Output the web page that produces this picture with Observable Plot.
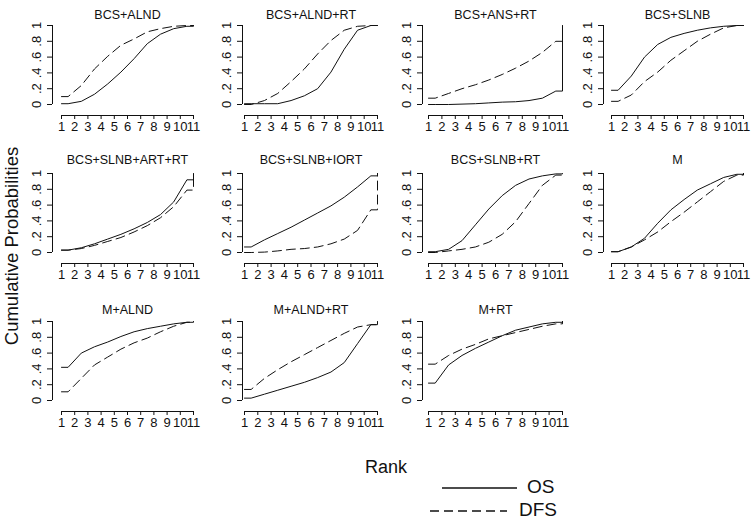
<!DOCTYPE html>
<html><head><meta charset="utf-8">
<script src="https://cdn.jsdelivr.net/npm/d3@7"></script>
<script src="https://cdn.jsdelivr.net/npm/@observablehq/plot@0.6"></script>
<style>
body{margin:0;background:#fff;}
#chart{position:relative;width:755px;height:523px;overflow:hidden;font-family:"Liberation Sans",Arial,sans-serif;background:#fff;}
#chart svg{position:absolute;overflow:visible;}
</style></head><body><div id="chart"></div>
<script>
const treatments = ["BCS+ALND","BCS+ALND+RT","BCS+ANS+RT","BCS+SLNB","BCS+SLNB+ART+RT","BCS+SLNB+IORT","BCS+SLNB+RT","M","M+ALND","M+ALND+RT","M+RT"];
const ranks = [1,2,3,4,5,6,7,8,9,10,11];
const yTicks = [0,0.2,0.4,0.6,0.8,1];
const yTickLabels = ["0",".2",".4",".6",".8","1"];
const seriesNames = ["OS","DFS"];
const xTitle = "Rank";
const yTitle = "Cumulative Probabilities";
// cumulative probability of rank <= k (k = 1..11), per treatment
const osCum = [
  [0.01,0.04,0.13,0.26,0.41,0.58,0.77,0.89,0.96,0.99,1],
  [0.01,0.01,0.01,0.05,0.11,0.20,0.41,0.70,0.94,1,1],
  [0,0,0.005,0.01,0.02,0.03,0.035,0.05,0.08,0.17,1],
  [0.18,0.36,0.60,0.76,0.85,0.90,0.94,0.97,0.99,1,1],
  [0.03,0.06,0.11,0.17,0.23,0.30,0.38,0.48,0.64,0.92,1],
  [0.07,0.16,0.24,0.32,0.41,0.50,0.59,0.70,0.83,0.97,1],
  [0.01,0.04,0.15,0.35,0.55,0.72,0.85,0.93,0.97,0.995,1],
  [0.01,0.07,0.18,0.37,0.54,0.67,0.79,0.87,0.95,0.99,1],
  [0.42,0.60,0.68,0.74,0.81,0.87,0.91,0.94,0.97,0.99,1],
  [0.03,0.08,0.13,0.18,0.23,0.29,0.36,0.48,0.72,0.96,1],
  [0.22,0.45,0.57,0.66,0.74,0.82,0.89,0.93,0.97,0.99,1]
];
const dfsCum = [
  [0.10,0.24,0.45,0.61,0.75,0.83,0.92,0.96,0.99,1,1],
  [0,0.05,0.14,0.29,0.45,0.64,0.81,0.94,0.99,1,1],
  [0.08,0.14,0.20,0.25,0.31,0.38,0.46,0.55,0.66,0.80,1],
  [0.04,0.12,0.29,0.41,0.56,0.68,0.80,0.89,0.97,1,1],
  [0.03,0.05,0.09,0.14,0.19,0.26,0.34,0.44,0.58,0.79,1],
  [0,0.005,0.02,0.04,0.05,0.07,0.11,0.17,0.28,0.54,1],
  [0,0.02,0.04,0.07,0.13,0.23,0.39,0.62,0.85,0.98,1],
  [0.01,0.07,0.16,0.26,0.39,0.51,0.64,0.77,0.90,0.98,1],
  [0.11,0.28,0.45,0.55,0.65,0.73,0.79,0.87,0.94,0.99,1],
  [0.14,0.28,0.39,0.49,0.58,0.67,0.76,0.85,0.93,0.96,1],
  [0.46,0.57,0.65,0.71,0.78,0.82,0.86,0.90,0.94,0.97,1]
];

// layout (pixels)
const colGeom = [{axis:52,r1:61,r11:193},{axis:242,r1:244,r11:377},{axis:422,r1:428,r11:562},{axis:603,r1:611,r11:743}];
const rowGeom = [{title:10,top:25,zero:104,xline:115},{title:155,top:173,zero:252,xline:263},{title:305,top:321,zero:400,xline:411}];
const FONT = "Liberation Sans, Arial, sans-serif";
const ink = "#111";

// points: value k drawn at rank k+0.5, flat start at rank 1, step up to final value at rank 11
function curve(vals, series) {
  const pts = [{rank: ranks[0], p: vals[0], series}];
  for (let k = 0; k < ranks.length - 1; k++) pts.push({rank: ranks[k] + 0.5, p: vals[k], series});
  pts.push({rank: ranks[ranks.length-1], p: vals[vals.length-2], series});
  pts.push({rank: ranks[ranks.length-1], p: vals[vals.length-1], series});
  return pts;
}

const chart = document.getElementById("chart");
treatments.forEach((name, i) => {
  const cg = colGeom[i % 4], rg = rowGeom[Math.floor(i / 4)];
  const left = cg.axis - 32, topPx = rg.title - 10;
  const width = cg.r11 + 12 - left, height = rg.xline + 24 - topPx;
  const os = curve(osCum[i], seriesNames[0]);
  const dfs = curve(dfsCum[i], seriesNames[1]);
  const plot = Plot.plot({
    width, height,
    marginLeft: cg.axis - left, marginRight: width - (cg.r11 - left),
    marginTop: rg.top - topPx, marginBottom: height - (rg.xline - topPx),
    style: {fontFamily: FONT, background: "transparent", color: ink},
    x: {domain: [1, 11], range: [cg.r1 - left, cg.r11 - left], axis: null},
    y: {domain: [0, 1], range: [rg.zero - topPx, rg.top - topPx], axis: null},
    marks: [
      Plot.axisX(ranks, {anchor: "bottom", tickSize: 4, tickPadding: 2, fontSize: 13, label: null, tickFormat: d => String(d), stroke: ink, fill: ink}),
      Plot.axisY(yTicks, {anchor: "left", tickSize: 5, tickPadding: 7, tickRotate: -90, fontSize: 13, label: null, tickFormat: d => yTickLabels[yTicks.indexOf(d)], stroke: ink, fill: ink}),
      Plot.ruleY([0], {x1: () => ranks[0], x2: () => ranks[ranks.length-1], dy: rg.xline - rg.zero, stroke: ink}),
      Plot.ruleX([ranks[0]], {y1: () => yTicks[0], y2: () => yTicks[yTicks.length-1], dx: cg.axis - cg.r1, stroke: ink}),
      Plot.line(dfs, {x: "rank", y: "p", stroke: ink, strokeWidth: 1, strokeDasharray: "9,5"}),
      Plot.line(os, {x: "rank", y: "p", stroke: ink, strokeWidth: 1}),
      Plot.text([name], {x: () => 6, frameAnchor: "top", dy: -(rg.top - rg.title), text: d => d, fontSize: 12.5, fill: ink})
    ]
  });
  plot.style.left = left + "px";
  plot.style.top = topPx + "px";
  chart.appendChild(plot);
});

// axis titles and legend
const svg = d3.select(chart).append("svg").attr("width", 755).attr("height", 523).style("left", "0px").style("top", "0px")
  .style("font-family", FONT).style("pointer-events", "none");
svg.append("text").attr("x", 386).attr("y", 468).attr("text-anchor", "middle").attr("dominant-baseline", "middle")
  .attr("font-size", 18).attr("fill", ink).text(xTitle);
svg.append("text").attr("transform", "translate(13,246) rotate(-90)").attr("text-anchor", "middle").attr("dominant-baseline", "middle")
  .attr("font-size", 18.5).attr("fill", ink).text(yTitle);
const leg = [{name: seriesNames[0], x1: 442, x2: 517, tx: 527, y: 488, dash: null},
             {name: seriesNames[1], x1: 430, x2: 507, tx: 519, y: 511, dash: "9,5"}];
leg.forEach(l => {
  svg.append("line").attr("x1", l.x1).attr("x2", l.x2).attr("y1", l.y).attr("y2", l.y).attr("stroke", ink).attr("stroke-width", 1.3)
    .attr("stroke-dasharray", l.dash);
  svg.append("text").attr("x", l.tx).attr("y", l.y).attr("dominant-baseline", "middle").attr("font-size", 19).attr("fill", ink).text(l.name);
});
</script></body></html>
